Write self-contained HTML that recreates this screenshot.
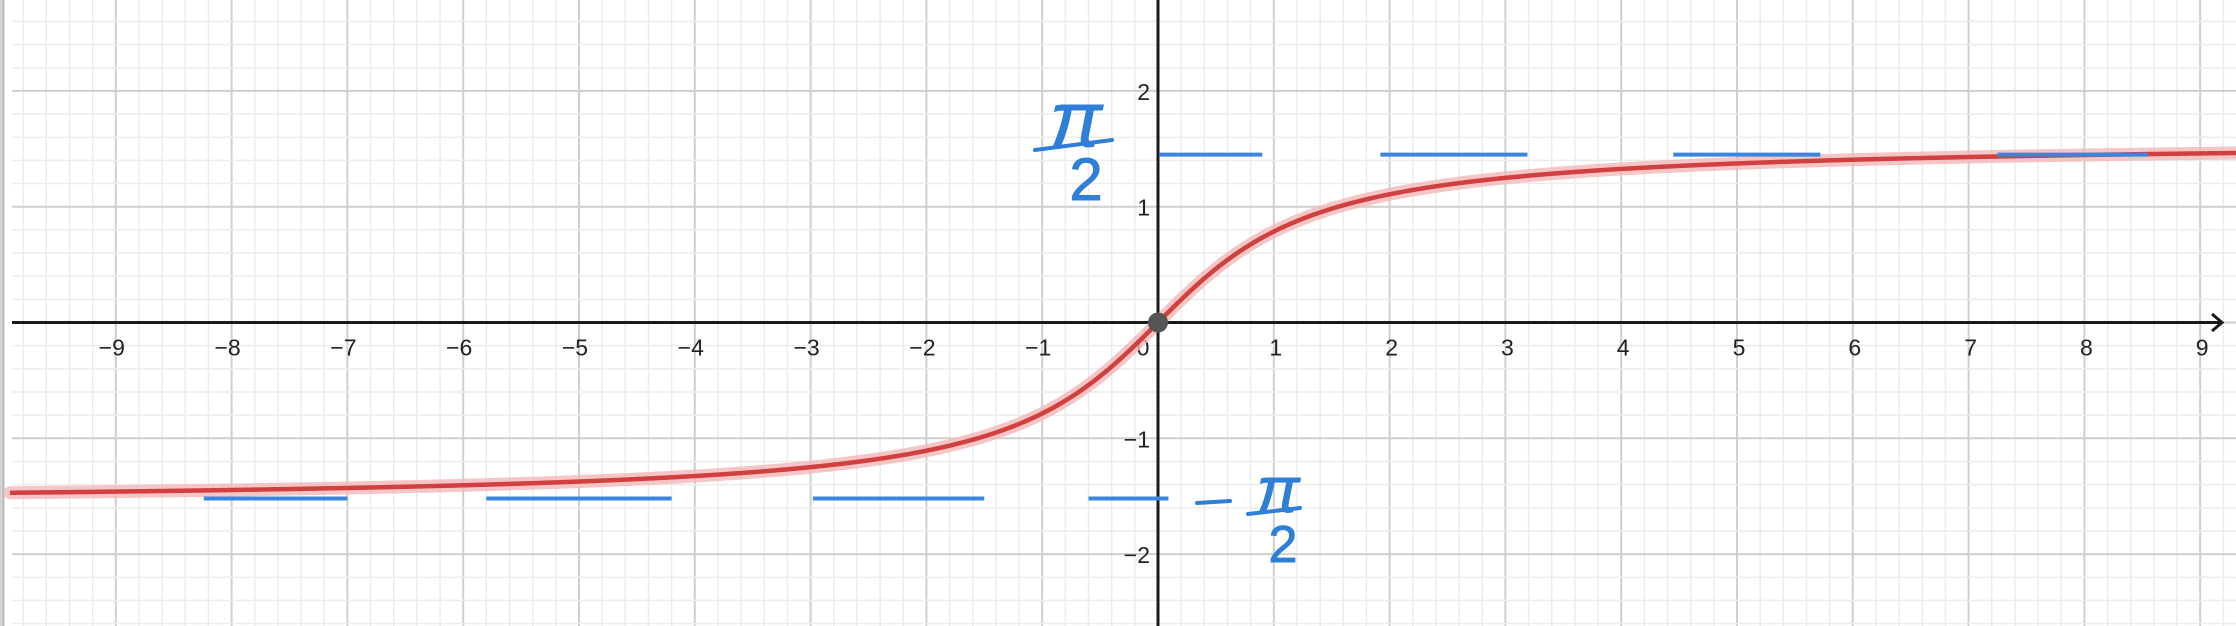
<!DOCTYPE html>
<html><head><meta charset="utf-8"><style>
html,body{margin:0;padding:0;background:#fff;}
svg{display:block;}
text{font-family:"Liberation Sans",sans-serif;}
</style></head><body>
<svg id="chart" width="2236" height="626" viewBox="0 0 2236 626" xmlns="http://www.w3.org/2000/svg">
<g id="grid"></g>
<g id="axes"></g>
<g id="labels"></g>
<g id="curve"></g>
<g id="asym"></g>
<g fill="#2f7fd8" stroke="#2f7fd8">
  <text x="1076" y="146" font-size="78" font-style="italic" stroke-width="1" text-anchor="middle">π</text>
  <line x1="1035" y1="150" x2="1112" y2="140" stroke-width="4" stroke-linecap="round"/>
  <text x="1086" y="200" font-size="60" stroke-width="1" text-anchor="middle">2</text>
</g>
<g fill="#2f7fd8" stroke="#2f7fd8">
  <line x1="1197" y1="503" x2="1230" y2="501" stroke-width="4" stroke-linecap="round"/>
  <text x="1278" y="512" font-size="64" font-style="italic" stroke-width="1" text-anchor="middle">π</text>
  <line x1="1248" y1="514" x2="1300" y2="508" stroke-width="4" stroke-linecap="round"/>
  <text x="1283" y="562" font-size="52" stroke-width="1" text-anchor="middle">2</text>
</g>
<circle id="origin" r="10" fill="#555"/>
</svg>
<script>
const xTicks=[-9,-8,-7,-6,-5,-4,-3,-2,-1,1,2,3,4,5,6,7,8,9];
const yTicks=[-2,-1,1,2];
const upperSegments=[[0.01,0.9],[1.92,3.19],[4.45,5.72],[7.25,8.55]];
const lowerSegments=[[-8.24,-7.0],[-5.8,-4.2],[-2.98,-1.5],[-0.6,0.09]];
const asymY=[1.45,-1.52];
const NS="http://www.w3.org/2000/svg";
const X0=1158,Y0=322.5,S=115.8,W=2236,H=626;
const sx=v=>X0+v*S, sy=v=>Y0-v*S;
function mk(t,a,p){const e=document.createElementNS(NS,t);for(const k in a)e.setAttribute(k,a[k]);p.appendChild(e);return e;}
const grid=document.getElementById('grid');
for(let i=-50;i<=50;i++){const v=i/5;const x=sx(v);if(x<0||x>W)continue;const major=i%5===0;
 const l=mk('line',{x1:x,y1:0,x2:x,y2:H,stroke:major?'#cfcfcf':'#ececec','stroke-width':major?2:1.5},grid);
 
 }
for(let i=-20;i<=20;i++){const v=i/5;const y=sy(v);if(y<0||y>H)continue;const major=i%5===0;
 const l=mk('line',{x1:12,y1:y,x2:W,y2:y,stroke:major?'#cfcfcf':'#ececec','stroke-width':major?2:1.5},grid);
 
 }
const b=mk('line',{x1:3,y1:0,x2:3,y2:H,stroke:'#bbb','stroke-width':3},grid);


const axes=document.getElementById('axes');
const xa=mk('line',{x1:12,y1:Y0,x2:2220,y2:Y0,stroke:'#1a1a1a','stroke-width':3},axes);


const ar=mk('path',{d:'M2212,314 L2222,322.5 L2212,331',fill:'none',stroke:'#1a1a1a','stroke-width':3},axes);


const ya=mk('line',{x1:X0,y1:0,x2:X0,y2:H,stroke:'#1a1a1a','stroke-width':3},axes);


const lab=document.getElementById('labels');
function txt(s,x,y,anchor){const t=mk('text',{x:x,y:y,'font-size':23,fill:'#222','text-anchor':anchor},lab);t.textContent=s;
 
 }
xTicks.forEach(v=>txt(v<0?'\u2212'+(-v):String(v),sx(v)+(v<0?-4:2),Y0+33,'middle'));
txt('0',X0-15,Y0+33,'middle');
yTicks.forEach(v=>txt(v<0?'\u2212'+(-v):String(v),X0-8,sy(v)+9,'end'));
const asym=document.getElementById('asym');
upperSegments.forEach(s=>{const l=mk('line',{x1:sx(s[0]),y1:sy(asymY[0]),x2:sx(s[1]),y2:sy(asymY[0]),stroke:'#3a86dc','stroke-width':4},asym);
 
 });
lowerSegments.forEach(s=>{const l=mk('line',{x1:sx(s[0]),y1:sy(asymY[1]),x2:sx(s[1]),y2:sy(asymY[1]),stroke:'#3a86dc','stroke-width':4},asym);
 
 });
const cv=document.getElementById('curve');
let d='';for(let px=10;px<=W;px+=2){const v=(px-X0)/S;d+=(d?'L':'M')+px+','+sy(Math.atan(v)).toFixed(2);}
const halo=mk('path',{d:d,fill:'none',stroke:'#f4b8b8','stroke-width':13,'stroke-linecap':'round',opacity:0.8},cv);


const ln=mk('path',{d:d,fill:'none',stroke:'#d0403f','stroke-width':4.5},cv);


const o=document.getElementById('origin');o.setAttribute('cx',X0);o.setAttribute('cy',Y0);
</script>
</body></html>
